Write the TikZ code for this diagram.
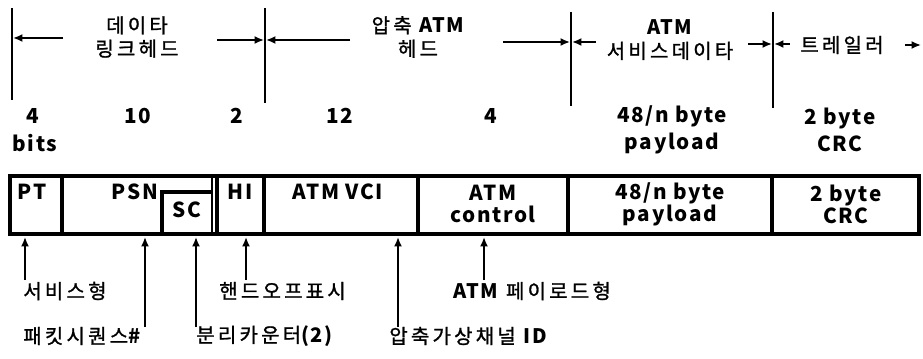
\documentclass[tikz,border=0pt]{standalone}
\usepackage{fontspec}
\setmainfont{Noto Sans CJK KR}
\newfontfamily\kor[LetterSpace=16,FakeBold=1.2]{Noto Sans CJK KR}
\newfontfamily\lat[LetterSpace=8]{Noto Sans CJK KR}
\usetikzlibrary{arrows.meta}

\begin{document}
\begin{tikzpicture}[x=0.75pt,y=-0.75pt,line width=2pt,
  every node/.style={inner sep=0pt,font=\fontsize{15pt}{17.5pt}\selectfont},
  kr/.style={font=\fontsize{15pt}{17.5pt}\kor},
  lat/.style={font=\fontsize{15.5pt}{16.5pt}\lat\bfseries,align=center},
  tip/.style={-{Latex[length=7pt,width=6pt]}},
  frame/.style={line width=3pt}]
  \useasboundingbox (0,0) rectangle (923,359);

  % top: section marks and arrows
  \draw (12,8) -- (12,100);
  \draw (265,8) -- (265,103);
  \draw (571,12) -- (571,106);
  \draw (773,12) -- (773,108);
  \coordinate (m1) at (13,38);
  \coordinate (m2l) at (264,40);  \coordinate (m2r) at (266,40);
  \coordinate (m3l) at (570,42);  \coordinate (m3r) at (572,42);
  \coordinate (m4l) at (772,44);  \coordinate (m4r) at (774,44);
  \coordinate (s1) at (63,38);
  \coordinate (s2) at (217,40);   \coordinate (s3) at (350,40);
  \coordinate (s4) at (503,42);   \coordinate (s5) at (596,42);
  \coordinate (s6) at (748,44);   \coordinate (s7) at (790,44);
  \coordinate (s8) at (905,45);   \coordinate (e8) at (921,45);
  \draw[tip] (s1) -- (m1);
  \draw[tip] (s2) -- (m2l);
  \draw[tip] (s3) -- (m2r);
  \draw[tip] (s4) -- (m3l);
  \draw[tip] (s5) -- (m3r);
  \draw[tip] (s6) -- (m4l);
  \draw[tip] (s7) -- (m4r);
  \draw[tip] (s8) -- (e8);

  \node[kr,align=center] (dlh) at (137,37) {데이타\\링크헤드};
  \node[kr,align=center] (cah) at (418,37) {압축 {\lat\bfseries ATM}\\헤드};
  \node[kr,align=center] (asd) at (670,40) {{\lat\bfseries ATM}\\서비스데이타};
  \node[kr] (trl) at (842,45) {트레일러};

  % bit counts
  \node[lat] (n1) at (33,116) {4};
  \node[lat] (bits) at (35,143) {bits};
  \node[lat] (n2) at (138,116) {10};
  \node[lat] (n3) at (237,116) {2};
  \node[lat] (n4) at (340,116) {12};
  \node[lat] (n5) at (491,116) {4};
  \node[lat,font=\fontsize{15.5pt}{20pt}\lat\bfseries] (n6) at (672,130) {48/n byte\\payload};
  \node[lat,font=\fontsize{15.5pt}{20pt}\lat\bfseries] (n7) at (840,130) {2 byte\\CRC};

  % packet fields
  \draw[frame] (10,176) rectangle (919,234);
  \foreach \x in {62,217,264,418,568,772}
    \draw[frame] (\x,176) -- (\x,234);
  \draw (212,176) -- (212,234);
  \draw[frame] (162,234) -- (162,192) -- (212,192);
  \node[lat] (pt)  at (32,192)  {PT};
  \node[lat] (psn) at (135,192) {PSN};
  \node[lat] (sc)  at (187,210) {SC};
  \node[lat] (hi)  at (240,192) {HI};
  \node[lat] (vci) at (338,192) {ATM VCI};
  \node[lat] (ctl) at (493,204) {ATM\\control};
  \node[lat] (pay) at (670,204) {48/n byte\\payload};
  \node[lat] (crc) at (846,204) {2 byte\\CRC};

  % field pointers
  \foreach \n/\x/\y in {1/25/280,2/145/327,3/196/327,4/246/280,5/398/327,6/484/280}{
    \coordinate (f\n) at (\x,\y);
    \coordinate (h\n) at (\x,237);
    \draw[tip] (f\n) -- (h\n);
  }
  \node[kr,anchor=west] (svt) at (22,291)  {서비스형};
  \node[kr,anchor=west] (hoi) at (218,291) {핸드오프표시};
  \node[kr,anchor=west] (plt) at (452,291) {{\lat\bfseries ATM} 페이로드형};
  \node[kr,anchor=west] (psq) at (22,336)  {패킷시퀀스{\lat\bfseries\#}};
  \node[kr,anchor=west] (sct) at (195,336) {분리카운터{\lat\bfseries(2)}};
  \node[kr,anchor=west] (cvc) at (388,336) {압축가상채널 {\lat\bfseries ID}};
\end{tikzpicture}
\end{document}
